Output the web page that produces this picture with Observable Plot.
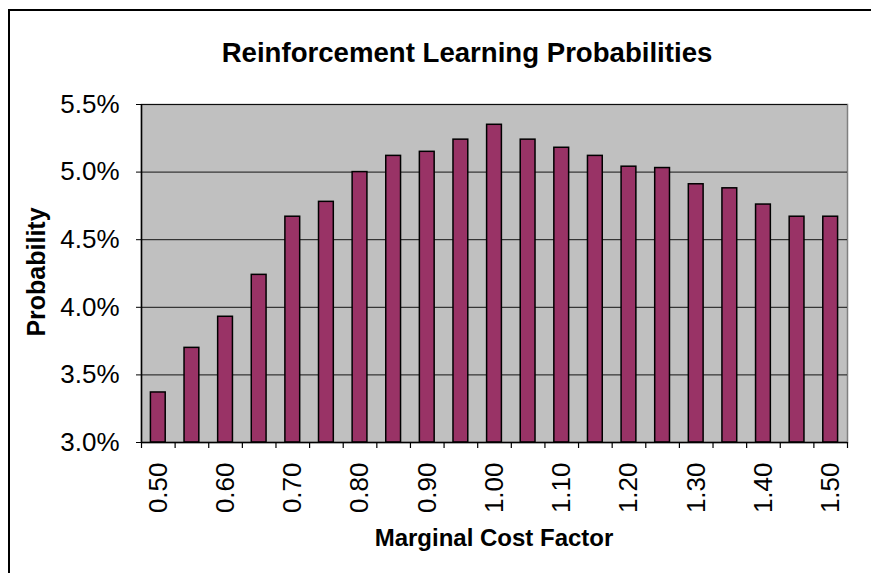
<!DOCTYPE html>
<html>
<head>
<meta charset="utf-8">
<script src="https://cdn.jsdelivr.net/npm/d3@7"></script>
<script src="https://cdn.jsdelivr.net/npm/@observablehq/plot@0.6"></script>
<style>
  html, body { margin: 0; padding: 0; background: #fff; }
  #wrap { position: relative; width: 871px; height: 573px; overflow: hidden; font-family: "Liberation Sans", Arial, sans-serif; }
  #border { position: absolute; left: 8px; top: 9px; width: 1000px; height: 1000px; border-left: 2px solid #000; border-top: 2px solid #000; }
  .lbl { position: absolute; font-weight: bold; color: #000; white-space: nowrap; }
  #title { left: 467px; top: 53px; transform: translate(-50%, -50%); font-size: 27.6px; }
  #xlab { left: 494px; top: 538px; transform: translate(-50%, -50%); font-size: 24px; }
  #ylab { left: 36px; top: 272px; transform: translate(-50%, -50%) rotate(-90deg); font-size: 25px; }
  #chart { position: absolute; left: 0; top: 0; }
</style>
</head>
<body>
<div id="wrap">
  <div id="border"></div>
  <div id="chart"></div>
  <div class="lbl" id="title">Reinforcement Learning Probabilities</div>
  <div class="lbl" id="xlab">Marginal Cost Factor</div>
  <div class="lbl" id="ylab">Probability</div>
</div>
<script>
const factors = ["0.50","0.55","0.60","0.65","0.70","0.75","0.80","0.85","0.90","0.95","1.00",
                 "1.05","1.10","1.15","1.20","1.25","1.30","1.35","1.40","1.45","1.50"];
const probabilities = [0.0337,0.0370,0.0393,0.0424,0.0467,0.0478,0.0500,0.0512,0.0515,0.0524,0.0535,
                       0.0524,0.0518,0.0512,0.0504,0.0503,0.0491,0.0488,0.0476,0.0467,0.0467];
const yTicks = [0.030,0.035,0.040,0.045,0.050,0.055];
const labeledFactors = factors.filter((d, i) => i % 2 === 0);

const data = factors.map((f, i) => ({factor: f, p: probabilities[i]}));

const W = 871, H = 573;
const mL = 141, mR = 24, mT = 104, mB = 131;
const step = (W - mL - mR) / factors.length;

const plot = Plot.plot({
  width: W,
  height: H,
  marginLeft: mL,
  marginRight: mR,
  marginTop: mT,
  marginBottom: mB,
  style: {fontFamily: "'Liberation Sans', Arial, sans-serif", background: "transparent", overflow: "visible"},
  x: {type: "band", domain: factors, paddingInner: 0.56, paddingOuter: 0.28, round: false},
  y: {domain: [0.03, 0.055]},
  marks: [
    Plot.frame({fill: "#C0C0C0", stroke: "#808080", strokeWidth: 1.5}),
    Plot.gridY(yTicks, {stroke: "#000", strokeOpacity: 0.9, strokeWidth: 1}),
    Plot.barY(data, {x: "factor", y1: 0.03, y2: "p", fill: "#993366", stroke: "#000", strokeWidth: 1.5}),
    Plot.ruleY([0.03], {stroke: "#000", strokeWidth: 1.5}),
    Plot.ruleX([factors[0]], {x: d => d, dx: -step / 2, stroke: "#000", strokeWidth: 1.5}),
    Plot.ruleX(factors, {x: d => d, dx: -step / 2, y1: 0.03, y2: 0.03, insetBottom: -6, stroke: "#000", strokeWidth: 1.2}),
    Plot.ruleX([factors[factors.length - 1]], {x: d => d, dx: step / 2, y1: 0.03, y2: 0.03, insetBottom: -6, stroke: "#000", strokeWidth: 1.2}),
    Plot.axisY(yTicks, {tickSize: 5, tickPadding: 17, tickFormat: d3.format(".1%"), fontSize: 26, stroke: "#000", strokeOpacity: 1, fill: "#000", label: null}),
    Plot.axisX(labeledFactors, {tickSize: 0, tickPadding: 20, tickRotate: -90, fontSize: 26, fill: "#000", label: null})
  ]
});
document.getElementById("chart").appendChild(plot);
</script>
</body>
</html>
